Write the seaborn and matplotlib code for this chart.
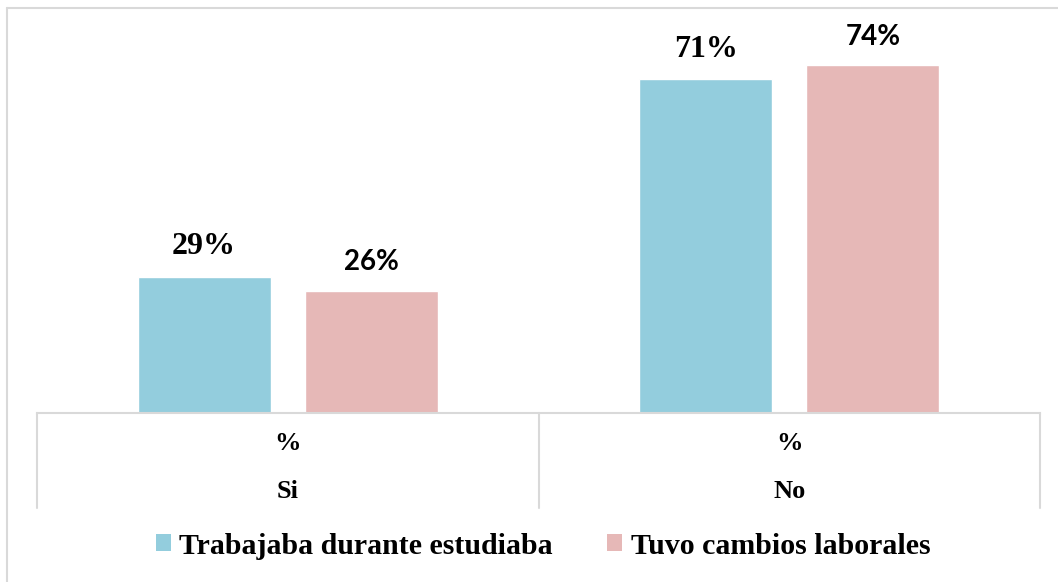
import matplotlib
matplotlib.use("Agg")
import matplotlib.pyplot as plt
import seaborn as sns
import pandas as pd
from matplotlib.lines import Line2D
from matplotlib.patches import Patch

categories = ["Si", "No"]
sub_label = "%"
series_names = ["Trabajaba durante estudiaba", "Tuvo cambios laborales"]
trabajaba = [29, 71]
cambios = [26, 74]
colors = ["#93CDDD", "#E6B8B7"]
label_fonts = ["Liberation Serif", "Lato"]

df = pd.DataFrame({
    "cat": categories * 2,
    "serie": [series_names[0]] * 2 + [series_names[1]] * 2,
    "val": trabajaba + cambios,
})

sns.set_theme(style="white")
plt.rcParams["font.family"] = ["Liberation Serif", "DejaVu Sans"]
plt.rcParams["text.color"] = "black"

W, H = 1058, 582
fig = plt.figure(figsize=(W / 100, H / 100), dpi=100)
ax = fig.add_axes([37 / W, 1 - 413 / H, (1040 - 37) / W, (413 - 18) / H])

sns.barplot(data=df, x="cat", y="val", hue="serie", order=categories,
            hue_order=series_names, palette=colors, width=0.667, gap=0.205,
            saturation=1, ax=ax, legend=False, errorbar=None)

ax.set_xlim(-0.5, 1.5)
ax.set_ylim(0, 84)
ax.set_xlabel("")
ax.set_ylabel("")
ax.set_xticks([])
ax.set_yticks([])
for s in ["top", "left", "right"]:
    ax.spines[s].set_visible(False)
ax.spines["bottom"].set_color("#D9D9D9")
ax.spines["bottom"].set_linewidth(1.5)

# value labels
sizes = {"Liberation Serif": 23, "Lato": 20}
for cont, fam in zip(ax.containers, label_fonts):
    labels = [f"{v:.0f}%" for v in cont.datavalues]
    ax.bar_label(cont, labels=labels, padding=11, fontsize=sizes[fam],
                 fontweight="bold", family=[fam, "DejaVu Sans"], color="black")

# multi-level category axis
trans = ax.get_xaxis_transform()
for xe in [-0.5, 0.5, 1.5]:
    ax.add_line(Line2D([xe, xe], [0, -0.24], transform=trans, color="#D9D9D9",
                       lw=1.5, clip_on=False))
for i, c in enumerate(categories):
    ax.text(i, -0.078, sub_label, transform=trans, ha="center", va="center",
            fontsize=19, fontweight="bold", color="black")
    ax.text(i, -0.20, c, transform=trans, ha="center", va="center",
            fontsize=19, fontweight="bold", color="black")

# legend
handles = [Patch(facecolor=col, edgecolor="none") for col in colors]
fig.legend(handles, series_names, loc="center", bbox_to_anchor=(543 / W, 1 - 546 / H),
           ncol=2, frameon=False, labelcolor="black",
           prop={"family": "Liberation Serif", "weight": "bold", "size": 21.5},
           handlelength=0.5, handleheight=0.5, handletextpad=0.3, columnspacing=1.8)

# chart-area border (left and top visible)
fig.add_artist(Line2D([7 / W, 7 / W], [0, 1 - 8 / H], transform=fig.transFigure,
                      color="#D9D9D9", lw=1.5))
fig.add_artist(Line2D([7 / W, 1], [1 - 8 / H, 1 - 8 / H], transform=fig.transFigure,
                      color="#D9D9D9", lw=1.5))

fig.savefig("out.png", dpi=100, facecolor="white")
